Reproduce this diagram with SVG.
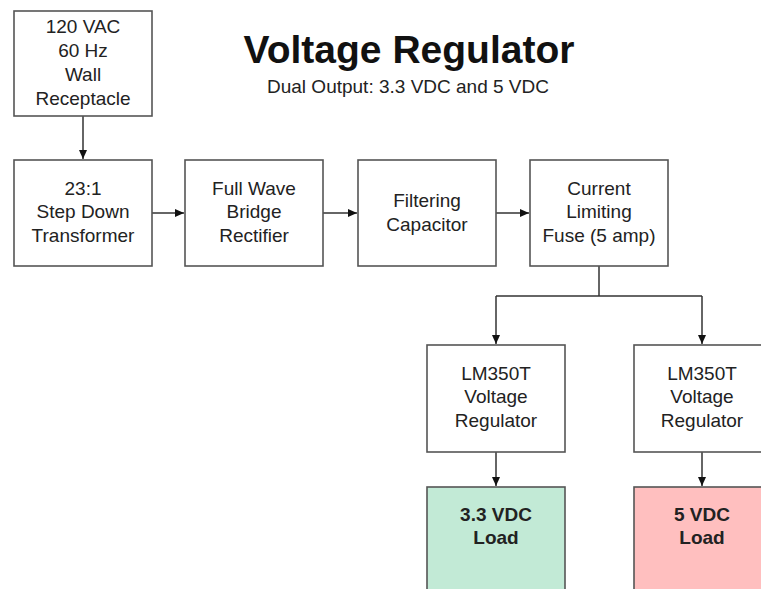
<svg xmlns="http://www.w3.org/2000/svg" width="761" height="589" viewBox="0 0 761 589">
<defs>
<marker id="ah" markerWidth="10" markerHeight="10" refX="9" refY="5" orient="auto" markerUnits="userSpaceOnUse">
<path d="M0,1 L9,5 L0,9 Z" fill="#111"/>
</marker>
<style>
.box{fill:#fff;stroke:#555;stroke-width:1.6}
.t{font-family:"Liberation Sans",Arial,sans-serif;font-size:19px;fill:#222;text-anchor:middle}
.b{font-weight:bold}
.c{fill:none;stroke:#333;stroke-width:1.5}
</style>
</defs>
<rect width="761" height="589" fill="#fff"/>
<text x="409" y="63" class="t b" style="font-size:39px;fill:#111">Voltage Regulator</text>
<text x="408" y="93" class="t">Dual Output: 3.3 VDC and 5 VDC</text>
<g id="connectors">
<path class="c" d="M83,116 V159" marker-end="url(#ah)"/>
<path class="c" d="M152,213 H184" marker-end="url(#ah)"/>
<path class="c" d="M323,213 H357" marker-end="url(#ah)"/>
<path class="c" d="M496,213 H529" marker-end="url(#ah)"/>
<path class="c" d="M599,266 V296"/>
<path class="c" d="M496,296 H702"/>
<path class="c" d="M496,296 V344" marker-end="url(#ah)"/>
<path class="c" d="M702,296 V344" marker-end="url(#ah)"/>
<path class="c" d="M496,452 V486" marker-end="url(#ah)"/>
<path class="c" d="M702,452 V486" marker-end="url(#ah)"/>
</g>
<g id="wall">
<rect class="box" x="14" y="11" width="138" height="105"/>
<text class="t" x="83" y="33">120 VAC</text>
<text class="t" x="83" y="57">60 Hz</text>
<text class="t" x="83" y="81">Wall</text>
<text class="t" x="83" y="105">Receptacle</text>
</g>
<g id="transformer">
<rect class="box" x="14" y="160" width="138" height="106"/>
<text class="t" x="83" y="195">23:1</text>
<text class="t" x="83" y="218">Step Down</text>
<text class="t" x="83" y="242">Transformer</text>
</g>
<g id="rectifier">
<rect class="box" x="185" y="160" width="138" height="106"/>
<text class="t" x="254" y="195">Full Wave</text>
<text class="t" x="254" y="218">Bridge</text>
<text class="t" x="254" y="242">Rectifier</text>
</g>
<g id="capacitor">
<rect class="box" x="358" y="160" width="138" height="106"/>
<text class="t" x="427" y="207">Filtering</text>
<text class="t" x="427" y="231">Capacitor</text>
</g>
<g id="fuse">
<rect class="box" x="530" y="160" width="138" height="106"/>
<text class="t" x="599" y="195">Current</text>
<text class="t" x="599" y="218">Limiting</text>
<text class="t" x="599" y="242">Fuse (5 amp)</text>
</g>
<g id="reg1">
<rect class="box" x="427" y="345" width="138" height="107"/>
<text class="t" x="496" y="380">LM350T</text>
<text class="t" x="496" y="403">Voltage</text>
<text class="t" x="496" y="427">Regulator</text>
</g>
<g id="reg2">
<rect class="box" x="634" y="345" width="138" height="107"/>
<text class="t" x="702" y="380">LM350T</text>
<text class="t" x="702" y="403">Voltage</text>
<text class="t" x="702" y="427">Regulator</text>
</g>
<g id="load1">
<rect class="box" x="427" y="487" width="138" height="110" style="fill:#c2ead6"/>
<text class="t b" x="496" y="521">3.3 VDC</text>
<text class="t b" x="496" y="544">Load</text>
</g>
<g id="load2">
<rect class="box" x="634" y="487" width="138" height="110" style="fill:#ffbfbf"/>
<text class="t b" x="702" y="521">5 VDC</text>
<text class="t b" x="702" y="544">Load</text>
</g>
</svg>
